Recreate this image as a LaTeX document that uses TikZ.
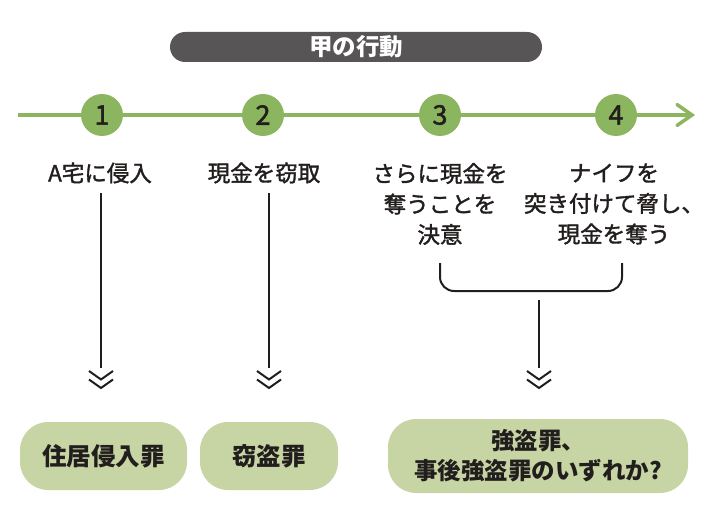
\documentclass[tikz,border=0pt]{standalone}
\usepackage{fontspec}
\setmainfont{Noto Sans CJK JP}
\newfontfamily\jpmed{Noto Sans CJK JP}[FakeBold=1.6]
\definecolor{tlgreen}{RGB}{140,181,95}
\definecolor{boxgreen}{RGB}{198,213,163}
\definecolor{pillgray}{RGB}{88,85,87}
\definecolor{ink}{RGB}{35,30,30}
\tikzset{
  titlepill/.style={fill=pillgray, rounded corners=15pt, minimum width=372pt, minimum height=30pt, inner sep=0pt, text=white, font=\fontsize{23.5}{26}\selectfont\bfseries},
  timeline/.style={draw=tlgreen, line width=3.5pt},
  tlhead/.style={draw=tlgreen, line width=3.5pt, line cap=round, line join=miter},
  numcirc/.style={circle, fill=tlgreen, minimum size=42pt, inner sep=0pt, text=ink, font=\fontsize{27}{30}\selectfont\jpmed},
  steplabel/.style={text=ink, align=center, inner sep=0pt, font=\fontsize{22.5}{30.5}\selectfont\jpmed},
  conn/.style={draw=ink, line width=2pt},
  verdict/.style={fill=boxgreen, rounded corners=28pt, inner sep=0pt, text=ink, align=center, font=\fontsize{24.5}{30}\selectfont\bfseries},
  dblchev/.pic={
    \draw[conn] (-12,0) -- (0,8.5) -- (12,0);
    \draw[conn] (-12,8.5) -- (0,17) -- (12,8.5);
  }
}
\begin{document}
\begin{tikzpicture}[x=1pt,y=-1pt]
\useasboundingbox (0,0) rectangle (720,532);
% title
\node[titlepill] (title) at (356,47) {甲の行動};
% timeline
\coordinate (tlstart) at (18,115);
\coordinate (tlend) at (692,115);
\draw[timeline] (tlstart) -- (tlend);
\draw[tlhead] ([shift={(-15,-10.5)}]tlend) -- (tlend) -- ([shift={(-15,10.5)}]tlend);
\node[numcirc] (c1) at (102,115) {1};
\node[numcirc] (c2) at (263,115) {2};
\node[numcirc] (c3) at (440,115) {3};
\node[numcirc] (c4) at (616,115) {4};
% step labels
\node[steplabel] (l1) at (100,173) {A宅に侵入};
\node[steplabel] (l2) at (264,173) {現金を窃取};
\node[steplabel] (l3) at (440,204) {さらに現金を\\奪うことを\\決意};
\node[steplabel] (l4) at (614,204) {ナイフを\\突き付けて脅し、\\現金を奪う};
% connectors
\coordinate (v1a) at (101,193);
\coordinate (v1b) at (101,368);
\coordinate (v2a) at (269,193);
\coordinate (v2b) at (269,368);
\coordinate (v3a) at (539,300);
\coordinate (v3b) at (539,368);
\draw[conn] (v1a) -- (v1b);
\draw[conn] (v2a) -- (v2b);
\coordinate (brL) at (440,263);
\coordinate (brR) at (622,263);
\draw[conn, rounded corners=14pt] (brL) -- (440,291) -- (622,291) -- (brR);
\draw[conn] (v3a) -- (v3b);
\pic at (101,371) {dblchev};
\pic at (269,371) {dblchev};
\pic at (539,371) {dblchev};
% verdict boxes
\node[verdict, minimum width=167pt, minimum height=68pt] (b1) at (103.5,456) {住居侵入罪};
\node[verdict, minimum width=138pt, minimum height=68pt] (b2) at (269,456) {窃盗罪};
\node[verdict, minimum width=300pt, minimum height=74pt, font=\fontsize{23.5}{30}\selectfont\bfseries] (b3) at (538,456) {強盗罪、\\事後強盗罪のいずれか?};
\end{tikzpicture}
\end{document}
